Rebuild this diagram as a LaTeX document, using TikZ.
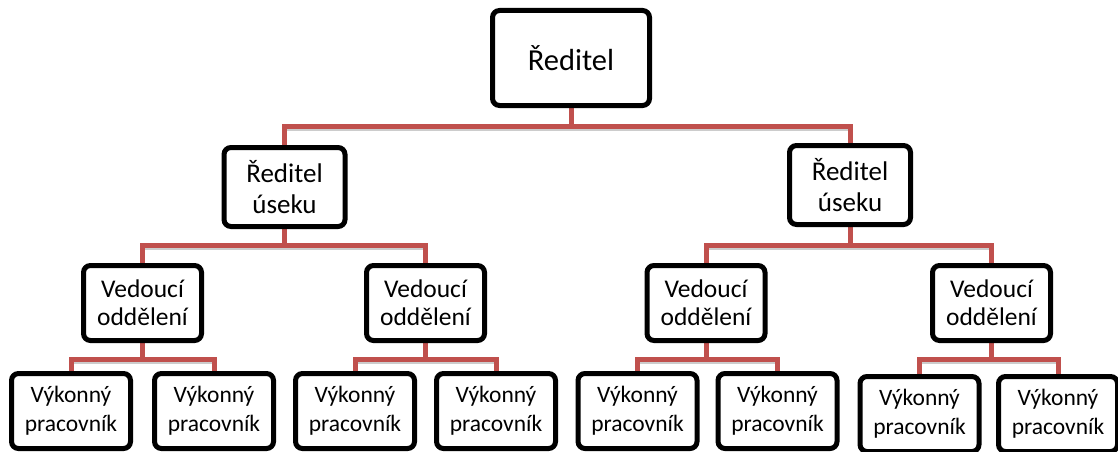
\documentclass[tikz,border=0pt]{standalone}
\usepackage{fontspec}
\setmainfont{Carlito}
\usetikzlibrary{backgrounds}
\definecolor{linkred}{RGB}{192,80,77}
\begin{document}
\begin{tikzpicture}[x=1pt,y=-1pt,
 box/.style={draw=black, line width=5pt, rounded corners=7pt, fill=white, align=center, inner sep=0pt},
 b1/.style={box, minimum width=157pt, minimum height=95pt, font=\fontsize{30.5}{34}\selectfont},
 b2/.style={box, minimum width=121pt, minimum height=79pt, font=\fontsize{27}{30.5}\selectfont},
 b3/.style={box, minimum width=118pt, minimum height=75pt, font=\fontsize{25.5}{28}\selectfont},
 b4/.style={box, minimum width=119pt, minimum height=75pt, font=\fontsize{23.5}{29}\selectfont},
 link/.style={draw=linkred, line width=5pt, preaction={draw=black!20, line width=5pt, transform canvas={yshift=-2.5pt}}},
]
\useasboundingbox (0,0) rectangle (1118,452);
\coordinate (bus1) at (0,126);
\coordinate (bus2) at (0,245);
\coordinate (bus3) at (0,359);

\node[b1] (top) at (571,58) {Ředitel};

\node[b2] (sa) at (284.5,187) {Ředitel\\úseku};
\node[b2] (sb) at (850,185) {Ředitel\\úseku};

\node[b3] (va) at (142.5,303) {Vedoucí\\oddělení};
\node[b3] (vb) at (425.5,303) {Vedoucí\\oddělení};
\node[b3] (vc) at (706,303) {Vedoucí\\oddělení};
\node[b3] (vd) at (991.5,303) {Vedoucí\\oddělení};

\node[b4] (p1) at (71,411) {Výkonný\\pracovník};
\node[b4] (p2) at (214,411) {Výkonný\\pracovník};
\node[b4] (p3) at (355,411) {Výkonný\\pracovník};
\node[b4] (p4) at (496,411) {Výkonný\\pracovník};
\node[b4] (p5) at (637.5,411) {Výkonný\\pracovník};
\node[b4] (p6) at (777.5,411) {Výkonný\\pracovník};
\node[b4] (p7) at (919.5,414) {Výkonný\\pracovník};
\node[b4] (p8) at (1058,414) {Výkonný\\pracovník};

\begin{scope}[on background layer]
\draw[link] (top.south) -- (top.south |- bus1) -| (sa.north);
\draw[link] (top.south) -- (top.south |- bus1) -| (sb.north);
\draw[link] (sa.south) -- (sa.south |- bus2) -| (va.north);
\draw[link] (sa.south) -- (sa.south |- bus2) -| (vb.north);
\draw[link] (sb.south) -- (sb.south |- bus2) -| (vc.north);
\draw[link] (sb.south) -- (sb.south |- bus2) -| (vd.north);
\draw[link] (va.south) -- (va.south |- bus3) -| (p1.north);
\draw[link] (va.south) -- (va.south |- bus3) -| (p2.north);
\draw[link] (vb.south) -- (vb.south |- bus3) -| (p3.north);
\draw[link] (vb.south) -- (vb.south |- bus3) -| (p4.north);
\draw[link] (vc.south) -- (vc.south |- bus3) -| (p5.north);
\draw[link] (vc.south) -- (vc.south |- bus3) -| (p6.north);
\draw[link] (vd.south) -- (vd.south |- bus3) -| (p7.north);
\draw[link] (vd.south) -- (vd.south |- bus3) -| (p8.north);
\end{scope}
\end{tikzpicture}
\end{document}
